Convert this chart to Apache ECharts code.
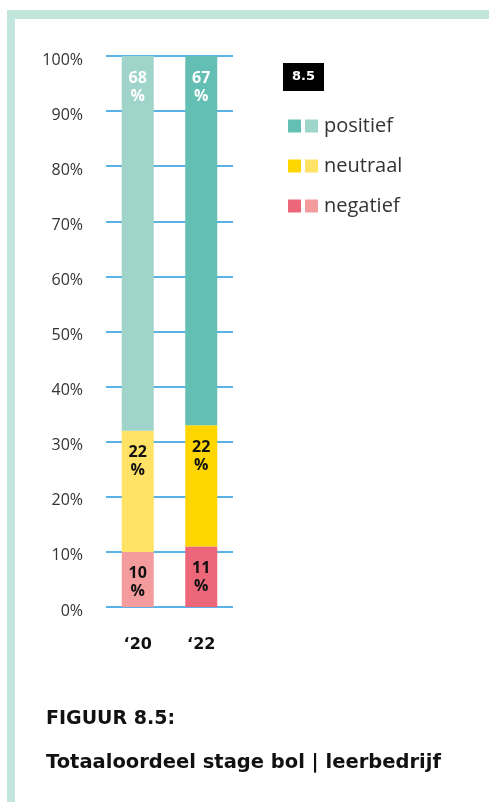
<!DOCTYPE html>
<html>
<head>
<meta charset="utf-8">
<script src="https://cdn.jsdelivr.net/npm/echarts@6/dist/echarts.min.js"></script>
<style>
  html, body { margin: 0; padding: 0; background: #fff; }
  #chart { width: 489px; height: 802px; }
</style>
</head>
<body>
<div id="chart"></div>
<script>
const years = ['‘20', '‘22']
const negatief = [10, 11]
const neutraal = [22, 22]
const positief = [68, 67]
const seriesNames = ['positief', 'neutraal', 'negatief']
const yTicks = [0, 10, 20, 30, 40, 50, 60, 70, 80, 90, 100]
const badge = '8.5'
const figLabel = 'FIGUUR 8.5:'
const figTitle = 'Totaaloordeel stage bol | leerbedrijf'

// colours per year: [2020 light, 2022 dark]
const colors = {
  positief: ['#9fd4ca', '#63bfb4'],
  neutraal: ['#ffe266', '#ffd600'],
  negatief: ['#f49b9e', '#ec6779']
}

const font = '"Open Sans", "Noto Sans", sans-serif'
const boldFont = '"DejaVu Sans", "Open Sans", sans-serif'

const chart = echarts.init(document.getElementById('chart'), null, { renderer: 'canvas' })

function makeSeries(name, values, labelColor) {
  return {
    name: name,
    type: 'bar',
    stack: 'total',
    barWidth: 32,
    data: values.map((v, i) => ({ value: v, itemStyle: { color: colors[name][i] } })),
    itemStyle: { color: colors[name][1] },
    label: {
      show: true,
      position: 'insideTop',
      distance: 13,
      formatter: (p) => p.value + '\n%',
      color: labelColor,
      fontFamily: font,
      fontWeight: 'bold',
      fontSize: 16,
      lineHeight: 18
    }
  }
}

const option = {
  backgroundColor: '#fff',
  animation: false,
  grid: { left: 106, right: 256, top: 56, bottom: 195 },
  title: {
    text: badge,
    left: 283,
    top: 63,
    padding: [6, 9, 6, 9],
    backgroundColor: '#000',
    textStyle: { color: '#fff', fontFamily: boldFont, fontWeight: 'bold', fontSize: 13, lineHeight: 16 }
  },
  legend: [
    {
      orient: 'vertical',
      left: 283,
      top: 111,
      itemWidth: 13,
      itemHeight: 13,
      itemGap: 20,
      icon: 'rect',
      selectedMode: false,
      data: seriesNames.map(n => ({ name: n, itemStyle: { color: colors[n][1] } })),
      formatter: () => ' ',
      textStyle: { fontSize: 16, lineHeight: 20, fontFamily: font }
    },
    {
      orient: 'vertical',
      left: 300,
      top: 111,
      itemWidth: 13,
      itemHeight: 13,
      itemGap: 20,
      icon: 'rect',
      selectedMode: false,
      data: seriesNames.map(n => ({ name: n, itemStyle: { color: colors[n][0] } })),
      textStyle: { color: '#333', fontSize: 20, lineHeight: 20, fontFamily: font, padding: [0, 0, 0, 1] }
    }
  ],
  xAxis: {
    type: 'category',
    data: years,
    axisLine: { show: false },
    axisTick: { show: false },
    axisLabel: { margin: 30, color: '#111', fontFamily: boldFont, fontWeight: 'bold', fontSize: 16, lineHeight: 16 }
  },
  yAxis: {
    type: 'value',
    min: 0,
    max: 100,
    interval: 10,
    axisLine: { show: false },
    axisTick: { show: false },
    axisLabel: {
      margin: 23,
      formatter: (v) => (yTicks.includes(v) ? '{t|' + v + '%}' : ''),
      rich: {
        t: { color: '#333', fontFamily: font, fontSize: 16, padding: [8, 0, 0, 0] }
      }
    },
    splitLine: { lineStyle: { color: '#5ab2e6', width: 2 } }
  },
  series: [
    makeSeries('negatief', negatief, '#111'),
    makeSeries('neutraal', neutraal, '#111'),
    makeSeries('positief', positief, '#fff')
  ],
  graphic: [
    // frame
    { type: 'rect', shape: { x: 7, y: 10, width: 482, height: 9 }, style: { fill: '#c2e5dc' } },
    { type: 'rect', shape: { x: 7, y: 10, width: 8, height: 792 }, style: { fill: '#c2e5dc' } },
    {
      type: 'text', left: 46, top: 710,
      style: { text: figLabel, fill: '#111', font: 'bold 19px ' + boldFont }
    },
    {
      type: 'text', left: 46, top: 753,
      style: { text: figTitle, fill: '#111', font: 'bold 19.5px ' + boldFont }
    }
  ]
}

chart.setOption(option)
</script>
</body>
</html>
